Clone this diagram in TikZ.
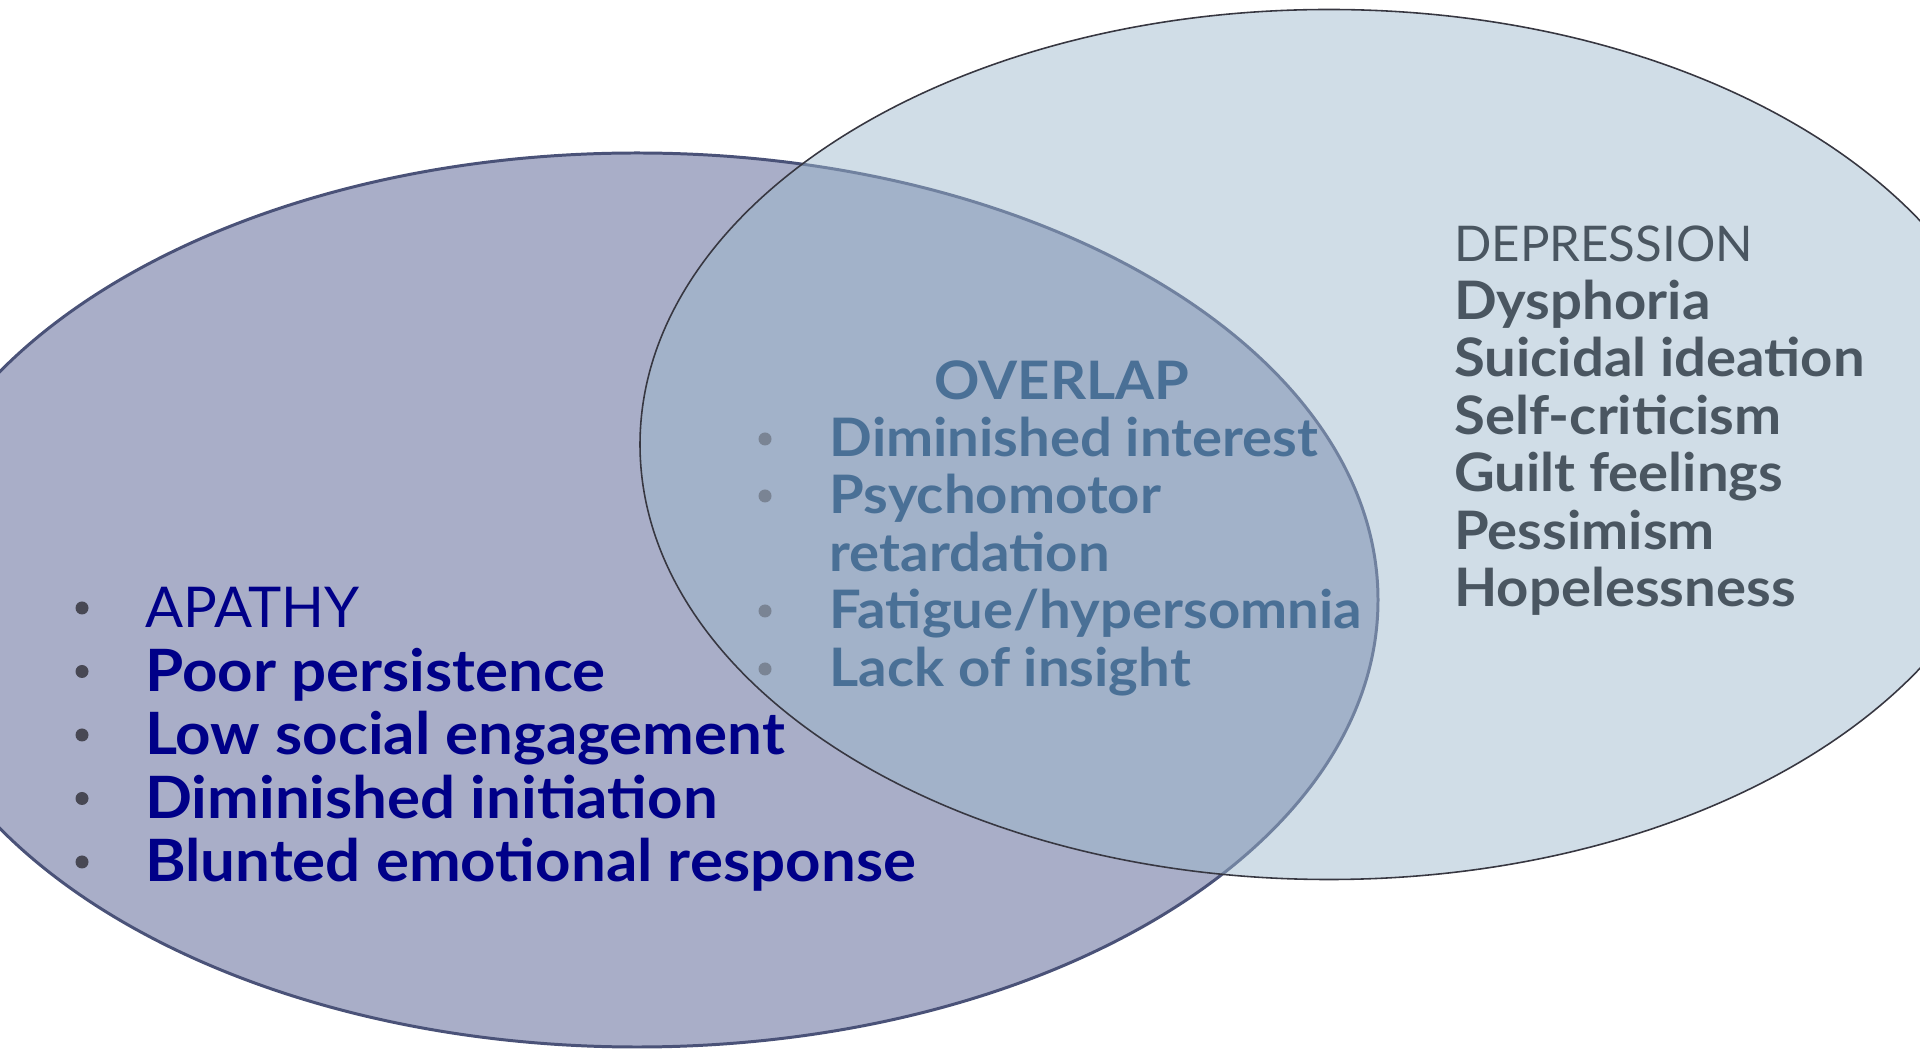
\documentclass[tikz,border=0pt]{standalone}
\usepackage{fontspec}
\setmainfont{Lato}[BoldFeatures={FakeStretch=1.06}]
\usepackage{tikz}
\usetikzlibrary{positioning}
\definecolor{apfill}{RGB}{169,174,200}
\definecolor{apline}{RGB}{74,82,120}
\definecolor{defill}{RGB}{156,183,203}
\definecolor{deline}{RGB}{55,55,65}
\definecolor{aptext}{RGB}{0,0,136}
\definecolor{ovtext}{RGB}{74,112,150}
\definecolor{detext}{RGB}{74,86,97}
\definecolor{apdot}{RGB}{72,72,84}
\definecolor{ovdot}{RGB}{122,132,148}
\tikzstyle{dot} = [circle,inner sep=0pt,minimum size=0.13cm]
\tikzstyle{aptxt} = [anchor=base west,inner sep=0pt,text=aptext,font=\fontsize{16.6pt}{19pt}\selectfont\bfseries]
\tikzstyle{ovtxt} = [anchor=base west,inner sep=0pt,text=ovtext,font=\fontsize{15.1pt}{17pt}\selectfont\bfseries]
\tikzstyle{detxt} = [anchor=base west,inner sep=0pt,text=detext,font=\fontsize{15.1pt}{17pt}\selectfont\bfseries]

\begin{document}
\begin{tikzpicture}
    \useasboundingbox (0,0) rectangle (19.2,-10.49);
    \clip (0,0) rectangle (19.2,-10.49);

    % the two sets
    \draw [fill=apfill,draw=apline,line width=0.85pt] (6.37,-6.00) ellipse [x radius=7.41,y radius=4.47];
    \fill [defill,fill opacity=0.47] (13.29,-4.445) ellipse [x radius=6.89,y radius=4.35];
    \draw [deline,line width=0.45pt] (13.29,-4.445) ellipse [x radius=6.89,y radius=4.35];

    % apathy
    \node [aptxt,font=\fontsize{16pt}{19pt}\selectfont] (aphead) at (1.445,-6.28) {APATHY};
    \node [dot,fill=apdot] (apdot0) at (0.82,-6.08) {};
    \foreach \t [count=\i] in {Poor persistence,Low social engagement,Diminished initiation,Blunted emotional response} {
        \node [aptxt] (ap\i) at (1.445,{-6.28-0.635*\i}) {\t};
        \node [dot,fill=apdot] (apdot\i) at (0.82,{-6.08-0.635*\i}) {};
    }

    % overlap
    \node [ovtxt,anchor=base] (ovhead) at (10.62,-4.00) {OVERLAP};
    \foreach \t/\y/\b [count=\i] in {Diminished interest/4.57/1,Psychomotor/5.14/1,retardation/5.72/0,{Fatigue/hypersomnia}/6.29/1,Lack of insight/6.87/1} {
        \node [ovtxt] (ov\i) at (8.29,-\y) {\t};
        \ifnum\b=1 \node [dot,fill=ovdot] (ovdot\i) at (7.65,{-\y+0.18}) {}; \fi
    }

    % depression
    \node [detxt,font=\fontsize{14pt}{17pt}\selectfont] (dehead) at (14.535,-2.62) {DEPRESSION};
    \foreach \t/\y [count=\i] in {Dysphoria/3.20,Suicidal ideation/3.77,Self-criticism/4.35,Guilt feelings/4.92,Pessimism/5.50,Hopelessness/6.07} {
        \node [detxt] (de\i) at (14.535,-\y) {\t};
    }
\end{tikzpicture}
\end{document}
